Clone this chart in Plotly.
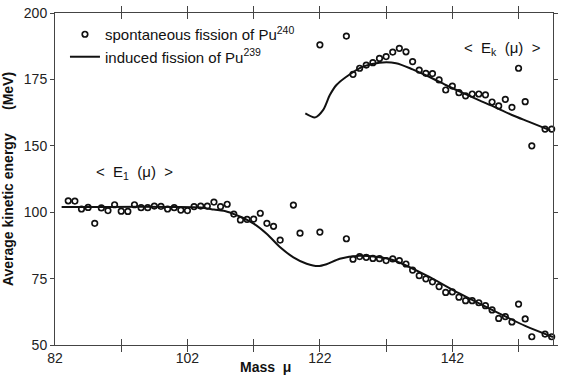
import plotly.graph_objects as go

# ---- data ----
# lower series: <E1(mu)>, spontaneous fission of Pu240 (points)
lower_pts_mass = [84, 85, 86, 87, 88, 89, 90, 91, 92, 93, 94, 95, 96, 97, 98, 99, 100, 101, 102, 103,
                  104, 105, 106, 107, 108, 109, 110, 111, 112, 113, 114, 115, 116, 118, 119, 122, 126,
                  127, 128, 129, 130, 131, 132, 133, 134, 135, 136, 137, 138, 139, 140, 141, 142, 143,
                  144, 145, 146, 147, 148, 149, 150, 151, 152, 153, 154, 156, 157]
lower_pts_e = [104.3, 104.2, 101.2, 101.8, 95.8, 101.6, 100.6, 102.8, 100.4, 100.3, 102.8, 101.7, 101.7,
               102.3, 102.2, 101.2, 101.7, 100.8, 100.6, 102.1, 102.3, 102.3, 103.8, 102.1, 103.0, 99.3,
               97.1, 97.3, 97.4, 99.6, 95.8, 94.7, 89.5, 102.7, 92.1, 92.5, 90.0,
               82.3, 83.3, 83.0, 82.6, 82.5, 81.8, 82.4, 81.8, 80.5, 78.2, 76.1, 74.9, 73.8, 72.0, 69.8,
               70.0, 68.0, 66.7, 66.7, 65.9, 64.8, 63.2, 60.0, 60.7, 58.7, 65.4, 59.8, 53.1, 54.1, 53.1]

# lower series: induced fission of Pu239 (curve)
lower_line_mass = [83, 90, 100, 104, 106, 108, 110, 112, 114, 116, 118, 120, 121.7, 123, 125, 128,
                   130.5, 133, 138, 143, 148, 153, 157.2]
lower_line_e = [102, 102, 102, 101.8, 101, 100.2, 98.3, 95.7, 91.8, 86.8, 83, 80.6, 79.7, 80.4, 82.5,
                83.6, 83.2, 82, 76.3, 69.5, 63.2, 57.2, 53]

# upper series: <Ek(mu)>
upper_pts_mass = [122, 126, 127, 128, 129, 130, 131, 132, 133, 134, 135, 136, 137, 138, 139, 140, 141,
                  142, 143, 144, 145, 146, 147, 148, 149, 150, 151, 152, 153, 154, 156, 157]
upper_pts_e = [188.0, 191.3, 176.9, 179.2, 180.4, 181.3, 182.9, 183.6, 185.3, 186.7, 185.4, 181.7,
               178.5, 177.3, 177.2, 174.8, 171.0, 172.5, 170.0, 168.8, 169.5, 169.5, 169.2, 166.5,
               165.0, 167.5, 164.5, 179.2, 166.6, 150.0, 156.3, 156.3]

upper_line_mass = [119.8, 121.3, 122.5, 123.5, 124.5, 126, 128.5, 131, 133.5, 136, 138.5, 141, 143.5,
                   146, 148.5, 151, 153.5, 156.8]
upper_line_e = [162.2, 160.7, 163.5, 169.1, 172.9, 176, 179.8, 181.3, 181.1, 178.8, 176, 172.9, 170,
                167.2, 164.5, 161.6, 159.1, 155.8]

x_ticks = [82, 92, 102, 112, 122, 132, 142, 152]
x_tick_text = ["82", " ", "102", " ", "122", " ", "142", " "]
upper_ticks = [150, 175, 200]
lower_ticks = [50, 75, 100]

FONT = "Liberation Sans"
BLACK = "#111111"

marker = dict(symbol="circle-open", size=5.5, color=BLACK, line=dict(width=1.7, color=BLACK))
line = dict(color=BLACK, width=2, shape="spline", smoothing=0.8)

fig = go.Figure()
fig.add_trace(go.Scatter(x=lower_pts_mass, y=lower_pts_e, mode="markers", marker=marker, yaxis="y2",
                         name="spontaneous fission of Pu<sup>240</sup>", cliponaxis=False))
fig.add_trace(go.Scatter(x=lower_line_mass, y=lower_line_e, mode="lines", line=line, yaxis="y2",
                         name="induced fission of Pu<sup>239</sup>"))
fig.add_trace(go.Scatter(x=upper_pts_mass, y=upper_pts_e, mode="markers", marker=marker, yaxis="y",
                         showlegend=False, cliponaxis=False))
fig.add_trace(go.Scatter(x=upper_line_mass, y=upper_line_e, mode="lines", line=line, yaxis="y",
                         showlegend=False))

axis_common = dict(showgrid=False, zeroline=False, showline=True, linecolor="#444", linewidth=1,
                   tickcolor="#444", tickfont=dict(family=FONT, size=14, color="#222"))

fig.update_layout(
    width=561, height=382,
    margin=dict(l=55, r=3, t=13, b=37),
    paper_bgcolor="white", plot_bgcolor="white",
    font=dict(family=FONT, color=BLACK),
    xaxis=dict(range=[82, 157.2], tickvals=x_ticks, ticktext=x_tick_text, ticks="inside", ticklen=6,
               mirror="allticks", **axis_common),
    yaxis=dict(range=[75, 200], tickvals=upper_ticks, ticks="outside", ticklen=4, mirror="ticks",
               title=dict(text="<b>Average kinetic energy\u00a0\u00a0\u00a0\u00a0\u00a0\u00a0(MeV)</b>",
                          font=dict(family=FONT, size=14, color=BLACK), standoff=6),
               **axis_common),
    yaxis2=dict(range=[50, 175], tickvals=lower_ticks, ticks="outside", ticklen=4, mirror="ticks",
                overlaying="y", side="left", anchor="x", **axis_common),
    legend=dict(x=0.02, y=0.985, xanchor="left", yanchor="top", bgcolor="rgba(0,0,0,0)",
                font=dict(family=FONT, size=15, color=BLACK), tracegroupgap=0),
    annotations=[
        dict(x=94, y=115, xref="x", yref="y2", showarrow=False,
             text="<  E<sub>1</sub>  (\u03bc)  >", font=dict(family=FONT, size=15, color=BLACK)),
        dict(x=149.6, y=186.8, xref="x", yref="y", showarrow=False,
             text="<  E<sub>k</sub>  (\u03bc)  >", font=dict(family=FONT, size=15, color=BLACK)),
        dict(x=0.423, y=-0.065, xref="paper", yref="paper", showarrow=False, yanchor="middle",
             text="<b>Mass  \u03bc</b>", font=dict(family=FONT, size=14, color=BLACK)),
    ],
)

fig.write_html("out.html", config={"displayModeBar": False},
               post_script="document.body.style.margin='0';")
